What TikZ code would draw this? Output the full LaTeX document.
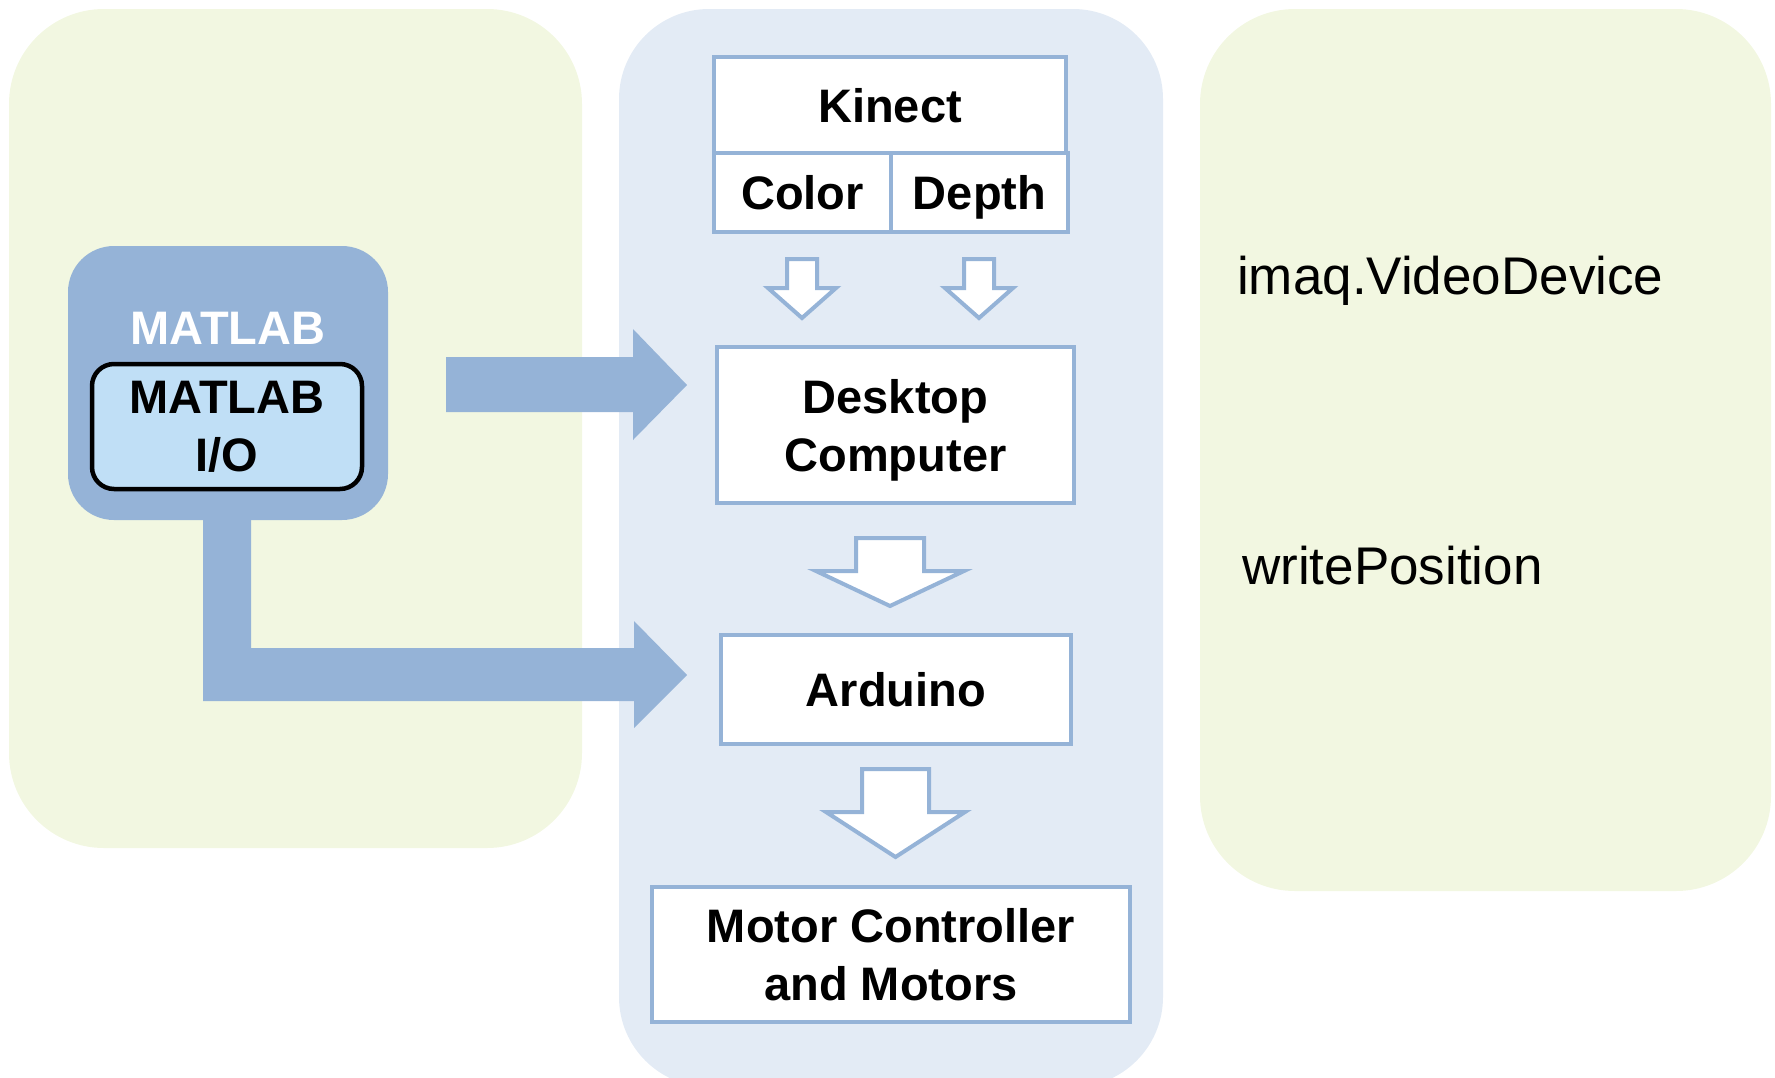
\documentclass[tikz,border=0pt]{standalone}
\usepackage{fontspec}
\setmainfont{Liberation Sans}
\usetikzlibrary{calc}
\definecolor{greenbg}{RGB}{242,247,225}
\definecolor{bluebg}{RGB}{227,235,245}
\definecolor{arrowblue}{RGB}{149,179,215}
\definecolor{iofill}{RGB}{192,223,246}
\begin{document}
\begin{tikzpicture}[x=1pt,y=-1pt,
  boldfont/.style={font=\bfseries\fontsize{47}{58}\selectfont},
  flowbox/.style={draw=arrowblue, line width=4pt, fill=white, boldfont, align=center, inner sep=0pt},
  oneline/.style={text height=34pt, text depth=0pt},
  hollow/.style={draw=arrowblue, line width=4pt, fill=white, line join=miter},
  bigarrow/.style={fill=arrowblue},
  codelabel/.style={font=\fontsize{53}{60}\selectfont, anchor=base west, inner sep=0pt}]
\useasboundingbox (0,0) rectangle (1775,1077);
% panels
\fill[greenbg, rounded corners=95pt] (9,9) rectangle (582,848);
\fill[bluebg, rounded corners=90pt] (619,9) rectangle (1163,1087);
\fill[greenbg, rounded corners=95pt] (1200,9) rectangle (1771,891);

% MATLAB block
\node[fill=arrowblue, rounded corners=46pt, minimum width=320pt, minimum height=274pt, inner sep=0pt] (mlab) at (228,383) {};
\node[text=white, boldfont, oneline, inner sep=0pt] (mlabel) at (228,327) {MATLAB};
\node[draw=black, line width=4.5pt, fill=iofill, rounded corners=22pt, minimum width=270pt, minimum height=125pt, inner sep=0pt, align=center, boldfont] (mio) at (227,426.5) {MATLAB\\I/O};

% middle flow boxes
\node[flowbox, oneline, minimum width=352pt, minimum height=96pt] (kinect) at (890,105) {Kinect};
\node[flowbox, oneline, minimum width=177pt, minimum height=79pt] (color) at (802.5,192.5) {Color};
\node[flowbox, oneline, minimum width=177pt, minimum height=79pt] (depth) at (979.5,192.5) {Depth};
\node[flowbox, minimum width=357pt, minimum height=156pt] (desk) at (895.5,425) {};
\node[boldfont, align=center, inner sep=0pt] (desktext) at ($(desk.center)+(0,5)$) {Desktop\\Computer};
\node[flowbox, oneline, minimum width=350pt, minimum height=109pt] (ard) at (896,689.5) {Arduino};
\node[flowbox, minimum width=478pt, minimum height=135pt] (motor) at (891,954.5) {Motor Controller\\and Motors};

% big blue arrows from MATLAB
\fill[bigarrow] (446,357) -- (633,357) -- (633,329) -- (687,385) -- (633,440) -- (633,412) -- (446,412) -- cycle;
\fill[bigarrow] (203,515) -- (251,515) -- (251,648) -- (634,648) -- (634,621) -- (687,675) -- (634,728) -- (634,701) -- (203,701) -- cycle;

% hollow down arrows
\draw[hollow] (787,259) -- (817,259) -- (817,288) -- (836,288) -- (802,318) -- (768,288) -- (787,288) -- cycle;
\draw[hollow] (964,259) -- (994,259) -- (994,288) -- (1013,288) -- (979,318) -- (945,288) -- (964,288) -- cycle;
\draw[hollow] (856,538) -- (924,538) -- (924,571) -- (964,571) -- (890,606) -- (816,571) -- (856,571) -- cycle;
\draw[hollow] (862,769) -- (929,769) -- (929,812) -- (965,812) -- (895.5,857) -- (826,812) -- (862,812) -- cycle;

% right panel labels
\node[codelabel] (imaq) at (1237,294) {imaq.VideoDevice};
\node[codelabel] (wpos) at (1242,584) {writePosition};
\end{tikzpicture}
\end{document}
